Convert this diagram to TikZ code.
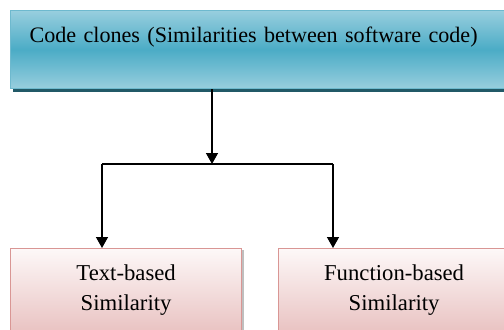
\documentclass[tikz,border=0pt]{standalone}
\usepackage{fontspec}
\setmainfont{Liberation Serif}
\usetikzlibrary{arrows.meta,shadows}
\definecolor{tealL}{RGB}{152,206,222}
\definecolor{tealM}{RGB}{75,172,198}
\definecolor{tealB}{RGB}{110,185,206}
\definecolor{tealS}{RGB}{33,89,103}
\definecolor{pinkT}{RGB}{253,248,248}
\definecolor{pinkB}{RGB}{229,184,183}
\definecolor{pinkE}{RGB}{217,150,148}
\tikzset{
  x=1bp,y=1bp,
  topbox/.style={draw=tealB, line width=1.2bp, top color=tealL, bottom color=tealL, middle color=tealM,
    drop shadow={shadow xshift=2bp, shadow yshift=-3bp, fill=tealS, opacity=1},
    anchor=north west, text width=482bp, inner xsep=19bp, inner ysep=0bp,
    text height=32bp, text depth=46bp, align=left,
    font=\fontsize{22.1bp}{30bp}\selectfont},
  subbox/.style={draw=pinkE, line width=1.2bp, top color=pinkT, bottom color=pinkB,
    drop shadow={shadow xshift=2bp, shadow yshift=-1bp, fill=black!25, opacity=1},
    anchor=north west, text width=231bp, minimum height=100bp, inner sep=0bp, align=center,
    text height=32bp, text depth=68bp,
    font=\fontsize{22.7bp}{30bp}\selectfont},
  arr/.style={line width=1.4bp, -{Triangle[width=12bp,length=11bp]}},
  ln/.style={line width=1.4bp}
}
\begin{document}
\begin{tikzpicture}
\useasboundingbox (0,0) rectangle (504,329);
\begin{scope}
\clip (0,0) rectangle (504,329);
\node[topbox] (top) at (10,319) {Code clones (Similarities between software code)};
\node[subbox] (left) at (10,81) {Text-based\\Similarity};
\node[subbox] (right) at (278,81) {Function-based\\Similarity};
\coordinate (j) at (212,165);
\coordinate (lj) at (102,165);
\coordinate (rj) at (333,165);
\draw[arr] (top.south -| j) -- (j);
\draw[ln] (lj) -- (rj);
\draw[arr] (lj) -- (lj |- left.north);
\draw[arr] (rj) -- (rj |- right.north);
\end{scope}
\end{tikzpicture}
\end{document}
